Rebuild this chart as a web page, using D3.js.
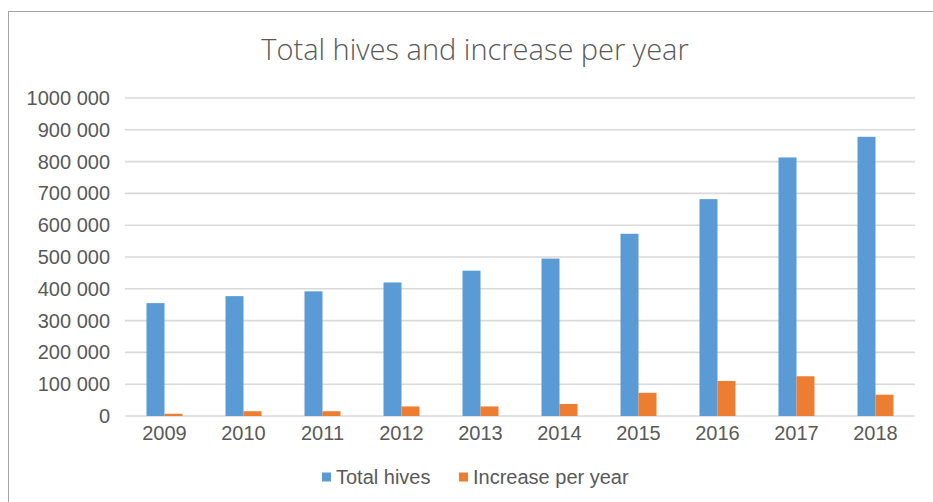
<!DOCTYPE html>
<html>
<head>
<meta charset="utf-8">
<script src="https://cdn.jsdelivr.net/npm/d3@7"></script>
<style>
  html, body { margin: 0; padding: 0; background: #fff; }
  svg { display: block; }
</style>
</head>
<body>
<svg id="chart" width="933" height="502"></svg>
<script>
// Hive counts per year
const years = ["2009", "2010", "2011", "2012", "2013", "2014", "2015", "2016", "2017", "2018"];
const totalHives = [355000, 377000, 392000, 420000, 457000, 495000, 573000, 682000, 813000, 878000];
const increasePerYear = [7000, 15000, 15000, 30000, 30000, 38000, 73000, 110000, 125000, 67000];
const yTicks = [0, 100000, 200000, 300000, 400000, 500000, 600000, 700000, 800000, 900000, 1000000];
const seriesNames = ["Total hives", "Increase per year"];
const seriesColors = ["#5b9bd5", "#ed7d31"];

const svg = d3.select("#chart");
const W = 933, H = 502;
const margin = { left: 125, right: 18, top: 98, bottom: 86 };
const labelFont = "'Liberation Sans', Arial, sans-serif";

// chart frame
svg.append("rect")
  .attr("x", 8.5).attr("y", 11.5)
  .attr("width", W + 10).attr("height", H + 10)
  .attr("fill", "#fff").attr("stroke", "#a6a6a6").attr("stroke-width", 1);

const x = d3.scaleBand().domain(years).range([margin.left, W - margin.right]).paddingInner(0).paddingOuter(0);
const y = d3.scaleLinear().domain([0, 1000000]).range([416, 98]);

const fmt = v => {
  const s = String(v);
  return s.length > 3 ? s.slice(0, s.length - 3) + " " + s.slice(-3) : s;
};

// gridlines
svg.append("g")
  .selectAll("line").data(yTicks).join("line")
  .attr("x1", margin.left).attr("x2", W - margin.right)
  .attr("y1", d => y(d)).attr("y2", d => y(d))
  .attr("stroke", "#d9d9d9").attr("stroke-width", 1.6);

// y axis labels
const yAxis = d3.axisLeft(y).tickValues(yTicks).tickFormat(fmt).tickSize(0).tickPadding(0);
const gy = svg.append("g").attr("transform", "translate(110,0)").call(yAxis);
gy.select(".domain").remove();
gy.selectAll("text")
  .attr("fill", "#595959")
  .style("font-family", labelFont)
  .style("font-size", "20px");

// x axis labels
const xAxis = d3.axisBottom(x).tickSize(0).tickPadding(0);
const gx = svg.append("g").attr("transform", "translate(0,426)").call(xAxis);
gx.select(".domain").remove();
gx.selectAll("text")
  .attr("dy", "0.71em")
  .attr("fill", "#595959")
  .style("font-family", labelFont)
  .style("font-size", "20px");

// bars
const barW = 18;
const sub = d3.scaleBand().domain([0, 1]).range([-barW, barW]);
const groups = svg.append("g").selectAll("g").data(years).join("g")
  .attr("transform", d => `translate(${x(d) + x.bandwidth() / 2},0)`);
[totalHives, increasePerYear].forEach((vals, si) => {
  groups.append("rect")
    .attr("x", sub(si))
    .attr("width", sub.bandwidth())
    .attr("y", (d, i) => y(vals[i]))
    .attr("height", (d, i) => y(0) - y(vals[i]))
    .attr("fill", seriesColors[si]);
});

// title
svg.append("text")
  .attr("x", 475).attr("y", 60)
  .attr("text-anchor", "middle")
  .attr("fill", "#595959")
  .style("font-family", "'Open Sans', sans-serif")
  .style("font-weight", 300)
  .style("font-size", "29px")
  .text("Total hives and increase per year");

// legend
const legend = svg.append("g").attr("transform", "translate(0,477)");
const legendItems = [{ x: 322, name: seriesNames[0], color: seriesColors[0] },
                     { x: 459, name: seriesNames[1], color: seriesColors[1] }];
legendItems.forEach(it => {
  legend.append("rect").attr("x", it.x).attr("y", -4.5).attr("width", 9).attr("height", 9).attr("fill", it.color);
  legend.append("text").attr("x", it.x + 14).attr("y", 0).attr("dy", "0.35em")
    .attr("fill", "#595959")
    .style("font-family", labelFont)
    .style("font-size", "20px")
    .text(it.name);
});
</script>
</body>
</html>
